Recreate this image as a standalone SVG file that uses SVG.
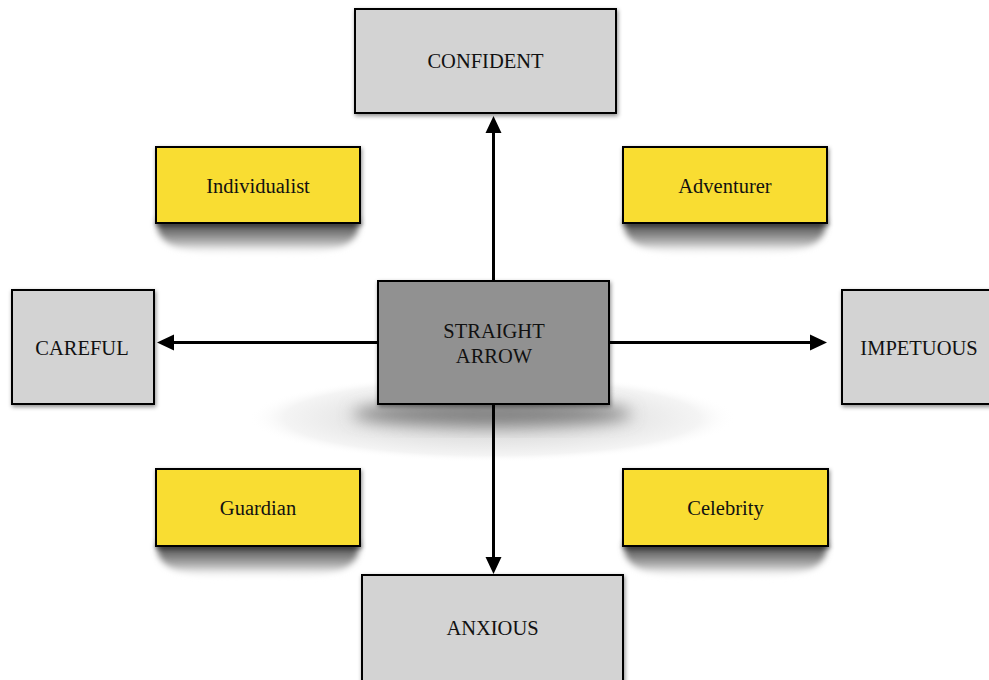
<svg xmlns="http://www.w3.org/2000/svg" width="989" height="680" viewBox="0 0 989 680">
<style>
.box{stroke:#000;stroke-width:2}
.gray{fill:#d3d3d3}
.yellow{fill:#f9dd31}
.center{fill:#919191}
.lbl{font-family:"Liberation Serif","Times New Roman",serif;font-size:20.5px;fill:#111;text-anchor:middle}
.conn{stroke:#000;stroke-width:3;fill:none}
.curl{fill:url(#curlGrad)}
</style>
<defs>
<filter id="ds" x="-10%" y="-10%" width="130%" height="130%">
<feDropShadow dx="1" dy="2" stdDeviation="2" flood-color="#000" flood-opacity="0.45"/>
</filter>
<filter id="blur4" x="-20%" y="-50%" width="140%" height="200%">
<feGaussianBlur stdDeviation="3"/>
</filter>
<filter id="blur8" x="-20%" y="-50%" width="140%" height="200%">
<feGaussianBlur stdDeviation="8"/>
</filter>
<linearGradient id="curlGrad" x1="0" y1="0" x2="0" y2="1">
<stop offset="0" stop-color="#3a3a3a"/>
<stop offset="0.35" stop-color="#777"/>
<stop offset="0.7" stop-color="#bbb"/>
<stop offset="1" stop-color="#fff" stop-opacity="0.3"/>
</linearGradient>
<radialGradient id="floor" cx="0.5" cy="0.5" r="0.5">
<stop offset="0" stop-color="#cfcfcf"/>
<stop offset="0.55" stop-color="#e6e6e6"/>
<stop offset="0.85" stop-color="#f4f4f4"/>
<stop offset="1" stop-color="#ffffff" stop-opacity="0"/>
</radialGradient>
<marker id="arr" markerUnits="userSpaceOnUse" markerWidth="18" markerHeight="18" viewBox="0 -9 18 18" refX="0" refY="0" orient="auto">
<path d="M0,-8 L17,0 L0,8 Z" fill="#000"/>
</marker>
</defs>

<g id="center-shadow">
<ellipse cx="492" cy="418" rx="244" ry="44" fill="url(#floor)"/>
<ellipse cx="492" cy="414" rx="140" ry="12" fill="#808080" filter="url(#blur8)"/>
</g>

<g id="connectors">
<line class="conn" x1="493.5" y1="281" x2="493.5" y2="133" marker-end="url(#arr)"/>
<line class="conn" x1="378" y1="342.5" x2="174" y2="342.5" marker-end="url(#arr)"/>
<line class="conn" x1="609" y1="342.5" x2="810" y2="342.5" marker-end="url(#arr)"/>
<line class="conn" x1="493.5" y1="404" x2="493.5" y2="557" marker-end="url(#arr)"/>
</g>

<g id="confident">
<rect class="box gray" x="355" y="9" width="261" height="104" filter="url(#ds)"/>
<text class="lbl" x="485.5" y="68">CONFIDENT</text>
</g>

<g id="careful">
<rect class="box gray" x="12" y="290" width="142" height="114" filter="url(#ds)"/>
<text class="lbl" x="82" y="355">CAREFUL</text>
</g>

<g id="impetuous">
<rect class="box gray" x="842" y="290" width="160" height="114" filter="url(#ds)"/>
<text class="lbl" x="919" y="355">IMPETUOUS</text>
</g>

<g id="anxious">
<rect class="box gray" x="362" y="575" width="261" height="120" filter="url(#ds)"/>
<text class="lbl" x="492.5" y="635">ANXIOUS</text>
</g>

<g id="straight-arrow">
<rect class="box center" x="378" y="281" width="231" height="123" filter="url(#ds)"/>
<text class="lbl" x="494" y="338">STRAIGHT</text>
<text class="lbl" x="494" y="363">ARROW</text>
</g>

<g id="individualist">
<path class="curl" d="M157,220 L359,220 C360,250 330,254 258,254 C186,254 156,250 157,220 Z" filter="url(#blur4)"/>
<rect class="box yellow" x="156" y="147" width="204" height="76" filter="url(#ds)"/>
<text class="lbl" x="258" y="193">Individualist</text>
</g>

<g id="adventurer">
<path class="curl" d="M624,220 L826,220 C827,250 797,254 725,254 C653,254 623,250 624,220 Z" filter="url(#blur4)"/>
<rect class="box yellow" x="623" y="147" width="204" height="76" filter="url(#ds)"/>
<text class="lbl" x="725" y="193">Adventurer</text>
</g>

<g id="guardian">
<path class="curl" d="M157,543 L359,543 C360,573 330,577 258,577 C186,577 156,573 157,543 Z" filter="url(#blur4)"/>
<rect class="box yellow" x="156" y="469" width="204" height="77" filter="url(#ds)"/>
<text class="lbl" x="258" y="515">Guardian</text>
</g>

<g id="celebrity">
<path class="curl" d="M624,543 L827,543 C828,573 798,577 725.5,577 C653,577 623,573 624,543 Z" filter="url(#blur4)"/>
<rect class="box yellow" x="623" y="469" width="205" height="77" filter="url(#ds)"/>
<text class="lbl" x="725.5" y="515">Celebrity</text>
</g>
</svg>
